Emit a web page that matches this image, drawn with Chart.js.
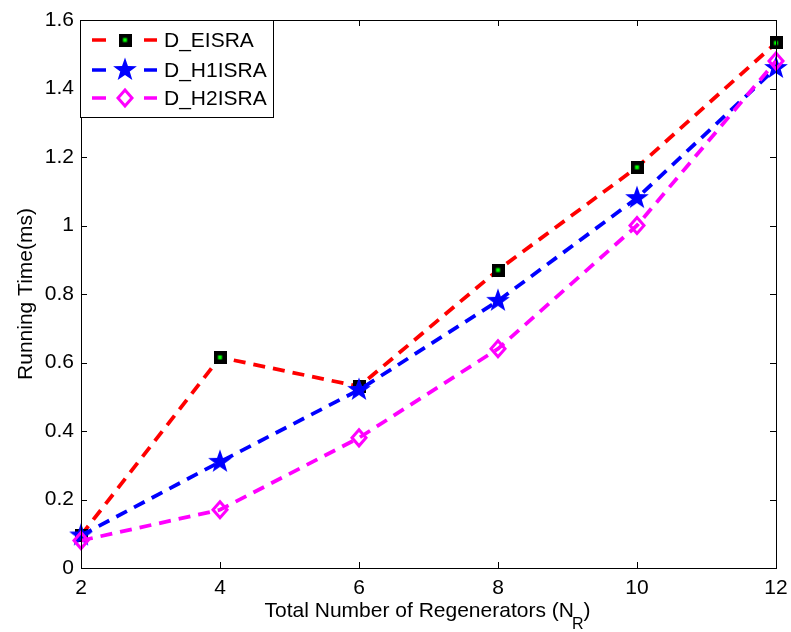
<!DOCTYPE html>
<html>
<head>
<meta charset="utf-8">
<script src="https://cdn.jsdelivr.net/npm/chart.js@4"></script>
<style>
  html, body { margin: 0; padding: 0; background: #fff; }
  #wrap { width: 791px; height: 632px; }
</style>
</head>
<body>
<div id="wrap"><canvas id="runChart" width="791" height="632"></canvas></div>
<script>
// data
const regenerators = [2, 4, 6, 8, 10, 12];
const eisra = [0.095, 0.615, 0.53, 0.87, 1.17, 1.533];
const h1isra = [0.095, 0.31, 0.52, 0.78, 1.08, 1.46];
const h2isra = [0.08, 0.17, 0.38, 0.64, 1.0, 1.48];
const seriesNames = ["D_EISRA", "D_H1ISRA", "D_H2ISRA"];
const yTicks = [0, 0.2, 0.4, 0.6, 0.8, 1, 1.2, 1.4, 1.6];
const xTicks = [2, 4, 6, 8, 10, 12];

const FONT = "Liberation Sans, Arial, sans-serif";
const FS = 21;

// marker images
function squareMarker() {
  const c = document.createElement("canvas");
  c.width = 13; c.height = 13;
  const g = c.getContext("2d");
  g.fillStyle = "#000";
  g.fillRect(0, 0, 13, 13);
  g.fillStyle = "#00ff00";
  g.fillRect(4.5, 4.5, 4, 4);
  return c;
}

function starMarker() {
  const c = document.createElement("canvas");
  c.width = 26; c.height = 26;
  const g = c.getContext("2d");
  g.fillStyle = "#0000ff";
  g.beginPath();
  for (let i = 0; i < 10; i++) {
    const r = i % 2 === 0 ? 12.5 : 5;
    const a = -Math.PI / 2 + i * Math.PI / 5;
    const px = 13 + r * Math.cos(a), py = 14 + r * Math.sin(a);
    i === 0 ? g.moveTo(px, py) : g.lineTo(px, py);
  }
  g.closePath();
  g.fill();
  return c;
}

const sqImg = squareMarker();
const starImg = starMarker();

function drawMarker(ctx, idx, x, y) {
  if (idx === 0) ctx.drawImage(sqImg, x - 6.5, y - 6.5);
  else if (idx === 1) ctx.drawImage(starImg, x - 13, y - 14);
  else {
    ctx.save();
    ctx.strokeStyle = "#ff00ff";
    ctx.lineWidth = 3;
    ctx.beginPath();
    ctx.moveTo(x, y - 8); ctx.lineTo(x + 7, y); ctx.lineTo(x, y + 8); ctx.lineTo(x - 7, y);
    ctx.closePath();
    ctx.stroke();
    ctx.restore();
  }
}

// box, inward ticks, titles, legend
const frame = {
  id: "frame",
  afterDraw(chart) {
    const { ctx, chartArea: a, scales } = chart;
    const xs = scales.x, ys = scales.y;
    ctx.save();
    ctx.strokeStyle = "#000";
    ctx.lineWidth = 1;
    ctx.strokeRect(a.left + 0.5, a.top + 0.5, a.right - a.left, a.bottom - a.top);
    ctx.beginPath();
    xTicks.forEach(v => {
      const px = Math.round(xs.getPixelForValue(v)) + 0.5;
      ctx.moveTo(px, a.bottom); ctx.lineTo(px, a.bottom - 6);
      ctx.moveTo(px, a.top); ctx.lineTo(px, a.top + 6);
    });
    yTicks.forEach(v => {
      const py = Math.round(ys.getPixelForValue(v)) + 0.5;
      ctx.moveTo(a.left, py); ctx.lineTo(a.left + 6, py);
      ctx.moveTo(a.right, py); ctx.lineTo(a.right - 6, py);
    });
    ctx.stroke();

    // axis titles
    ctx.fillStyle = "#000";
    ctx.font = FS + "px " + FONT;
    ctx.textBaseline = "alphabetic";
    const main = "Total Number of Regenerators (N";
    const sub = "R";
    const close = ")";
    const wMain = ctx.measureText(main).width;
    ctx.font = "16px " + FONT;
    const wSub = ctx.measureText(sub).width;
    ctx.font = FS + "px " + FONT;
    const wClose = ctx.measureText(close).width;
    let tx = (a.left + a.right) / 2 - (wMain + wSub + wClose) / 2;
    ctx.textAlign = "left";
    ctx.fillText(main, tx, 617);
    tx += wMain;
    ctx.font = "16px " + FONT;
    ctx.fillText(sub, tx - 2, 629);
    tx += wSub - 2;
    ctx.font = FS + "px " + FONT;
    ctx.fillText(close, tx, 617);

    ctx.save();
    ctx.translate(32, (a.top + a.bottom) / 2);
    ctx.rotate(-Math.PI / 2);
    ctx.textAlign = "center";
    ctx.fillText("Running Time(ms)", 0, 0);
    ctx.restore();

    // legend
    const lx = 80.5, ly = 20.5, lw = 193, lh = 97;
    ctx.fillStyle = "#fff";
    ctx.fillRect(lx, ly, lw, lh);
    ctx.strokeRect(lx, ly, lw, lh);
    const rowsY = [40, 70, 98];
    chart.data.datasets.forEach((ds, i) => {
      const y = rowsY[i];
      ctx.strokeStyle = ds.borderColor;
      ctx.lineWidth = 3.5;
      ctx.beginPath();
      ctx.moveTo(92, y); ctx.lineTo(106, y);
      ctx.moveTo(144, y); ctx.lineTo(157, y);
      ctx.stroke();
      drawMarker(ctx, i, 125, y);
      ctx.fillStyle = "#000";
      ctx.font = FS + "px " + FONT;
      ctx.textAlign = "left";
      ctx.textBaseline = "middle";
      ctx.fillText(seriesNames[i], 164, y + 1);
    });
    ctx.restore();
  }
};

// markers drawn on top of each dataset's dashed line
const markers = {
  id: "markers",
  afterDatasetDraw(chart, args) {
    const meta = args.meta;
    const { ctx } = chart;
    meta.data.forEach(pt => drawMarker(ctx, args.index, pt.x, pt.y));
  }
};

const colors = ["#ff0000", "#0000ff", "#ff00ff"];
const allSeries = [eisra, h1isra, h2isra];

new Chart(document.getElementById("runChart"), {
  type: "line",
  data: {
    datasets: allSeries.map((vals, i) => ({
      label: seriesNames[i],
      data: regenerators.map((x, j) => ({ x, y: vals[j] })),
      borderColor: colors[i],
      borderWidth: 3.8,
      borderDash: [12, 8],
      pointRadius: 0,
      tension: 0,
      fill: false,
      order: 3 - i
    }))
  },
  options: {
    responsive: false,
    animation: false,
    layout: { padding: { top: 20, right: 15, left: 0, bottom: 0 } },
    plugins: { legend: { display: false }, tooltip: { enabled: false } },
    scales: {
      x: {
        type: "linear",
        min: 2, max: 12,
        afterFit: s => { s.height = 64; s.paddingLeft = 0; s.paddingRight = 0; },
        afterBuildTicks: s => { s.ticks = xTicks.map(v => ({ value: v })); },
        grid: { display: false, drawTicks: false },
        border: { display: false },
        ticks: { color: "#000", font: { family: FONT, size: FS }, padding: 8, maxRotation: 0 }
      },
      y: {
        min: 0, max: 1.6,
        afterFit: s => { s.width = 81; s.paddingTop = 0; s.paddingBottom = 0; },
        afterBuildTicks: s => { s.ticks = yTicks.map(v => ({ value: v })); },
        grid: { display: false, drawTicks: false },
        border: { display: false },
        ticks: {
          color: "#000", font: { family: FONT, size: FS }, padding: 7,
          callback: v => String(Math.round(v * 10) / 10)
        }
      }
    }
  },
  plugins: [markers, frame]
});
</script>
</body>
</html>
